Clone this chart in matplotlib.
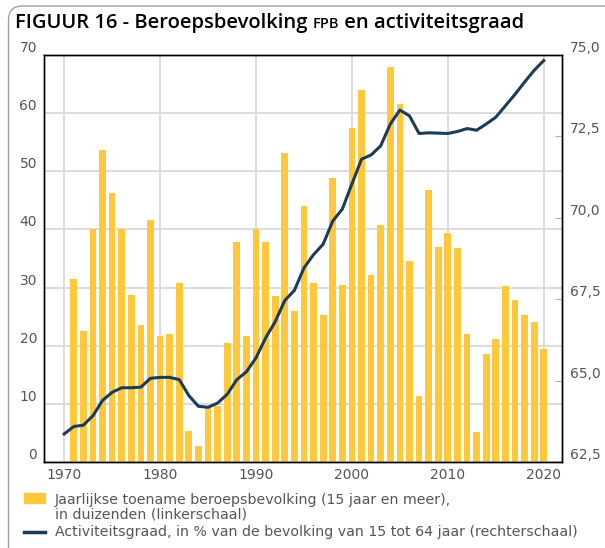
import matplotlib.pyplot as plt
from matplotlib.patches import FancyBboxPatch, Rectangle
from matplotlib.lines import Line2D

plt.rcParams['font.family'] = ['DejaVu Sans']

# Jaarlijkse toename beroepsbevolking (duizenden), 1971-2020
bar_years = list(range(1971, 2021))
bar_values = [31.4, 22.6, 40.1, 53.7, 46.3, 40.0, 28.8, 23.5, 41.7, 21.6,
              22.1, 30.8, 5.4, 2.7, 9.4, 9.7, 20.5, 37.8, 21.6, 40.0,
              37.8, 28.6, 53.2, 26.0, 44.1, 30.8, 25.2, 48.9, 30.4, 57.5,
              63.9, 32.2, 40.8, 68.0, 61.6, 34.5, 11.4, 46.8, 37.0, 39.3,
              36.8, 22.1, 5.2, 18.6, 21.2, 30.3, 27.8, 25.3, 24.1, 19.5]

# Activiteitsgraad (%), 1970-2020
line_years = list(range(1970, 2021))
line_values = [63.36, 63.59, 63.63, 63.92, 64.39, 64.64, 64.78, 64.78, 64.80, 65.07,
               65.10, 65.10, 65.03, 64.54, 64.21, 64.18, 64.31, 64.58, 65.03, 65.27,
               65.70, 66.31, 66.81, 67.46, 67.77, 68.46, 68.87, 69.19, 69.90, 70.27,
               71.04, 71.80, 71.93, 72.21, 72.88, 73.31, 73.13, 72.59, 72.61, 72.60,
               72.59, 72.65, 72.74, 72.69, 72.88, 73.09, 73.44, 73.79, 74.17, 74.53,
               74.83]

left_ticks = list(range(0, 71, 10))
right_ticks = [62.5, 65.0, 67.5, 70.0, 72.5, 75.0]
right_labels = ['62,5', '65,0', '67,5', '70,0', '72,5', '75,0']
x_ticks = [1970, 1980, 1990, 2000, 2010, 2020]

bar_color = '#FFC83C'
line_color = '#1C3B59'
grid_color = '#D9D9D9'
tick_color = '#555555'

W, H = 605, 548
fig = plt.figure(figsize=(W / 100, H / 100), dpi=100)

# outer frame with rounded top-left corner
frame = FancyBboxPatch((0.085, -0.5), 7.0, H / 100 - 0.06 + 0.5,
                       boxstyle='round,pad=0,rounding_size=0.14',
                       transform=fig.dpi_scale_trans, fill=False,
                       edgecolor='#A0A0A0', linewidth=1.0)
fig.patches.append(frame)

ax = fig.add_axes([44 / W, 1 - 462 / H, (562 - 44) / W, (462 - 55) / H])
ax.bar(bar_years, bar_values, width=0.7, color=bar_color, zorder=2)
ax.set_xlim(1967.9, 2021.9)
ax.set_ylim(0, 70)
ax.set_yticks(left_ticks)
ax.set_xticks(x_ticks)
ax.grid(True, color=grid_color, linewidth=1.3)
ax.set_axisbelow(True)
ax.tick_params(axis='both', length=0, labelsize=10, labelcolor=tick_color)
ax.tick_params(axis='y', pad=5)
ax.tick_params(axis='x', pad=4)
for lab in ax.get_yticklabels():
    lab.set_va('bottom')

ax2 = ax.twinx()
ax2.plot(line_years, line_values, color=line_color, linewidth=2.2, zorder=3)
ax2.set_ylim(62.5, 75.0)
ax2.set_yticks(right_ticks)
ax2.set_yticklabels(right_labels)
ax2.tick_params(axis='y', direction='in', length=5, color='#B0B0B0',
                labelsize=10, labelcolor=tick_color, pad=6)
for lab in ax2.get_yticklabels():
    lab.set_va('bottom')

for a in (ax, ax2):
    for s in a.spines.values():
        s.set_color('black')
        s.set_linewidth(1.0)

# title in pieces (FPB smaller)
fig.canvas.draw()
r = fig.canvas.get_renderer()
x0 = 15 / W
y0 = 1 - 28 / H
parts = [('FIGUUR 16 - Beroepsbevolking ', 14.5), ('FPB', 10.5), (' en activiteitsgraad', 14.5)]
for txt, size in parts:
    t = fig.text(x0, y0, txt, fontsize=size, fontweight='semibold',
                 family=['Open Sans', 'DejaVu Sans'],
                 color='black', va='baseline', ha='left')
    bb = t.get_window_extent(renderer=r)
    x0 += bb.width / W

# legend
fig.patches.append(Rectangle((24 / W, 1 - 503 / H), 21 / W, 10 / H,
                             transform=fig.transFigure, color=bar_color))
fig.lines.append(Line2D([24 / W, 45 / W], [1 - 532 / H, 1 - 532 / H],
                        transform=fig.transFigure, color=line_color, linewidth=2.5))
leg_lines = ['Jaarlijkse toename beroepsbevolking (15 jaar en meer),',
             'in duizenden (linkerschaal)',
             'Activiteitsgraad, in % van de bevolking van 15 tot 64 jaar (rechterschaal)']
for txt, yb in zip(leg_lines, [504, 519, 536]):
    fig.text(55 / W, 1 - yb / H, txt, fontsize=10.2, color=tick_color, va='baseline')

fig.savefig('out.png', dpi=100)
